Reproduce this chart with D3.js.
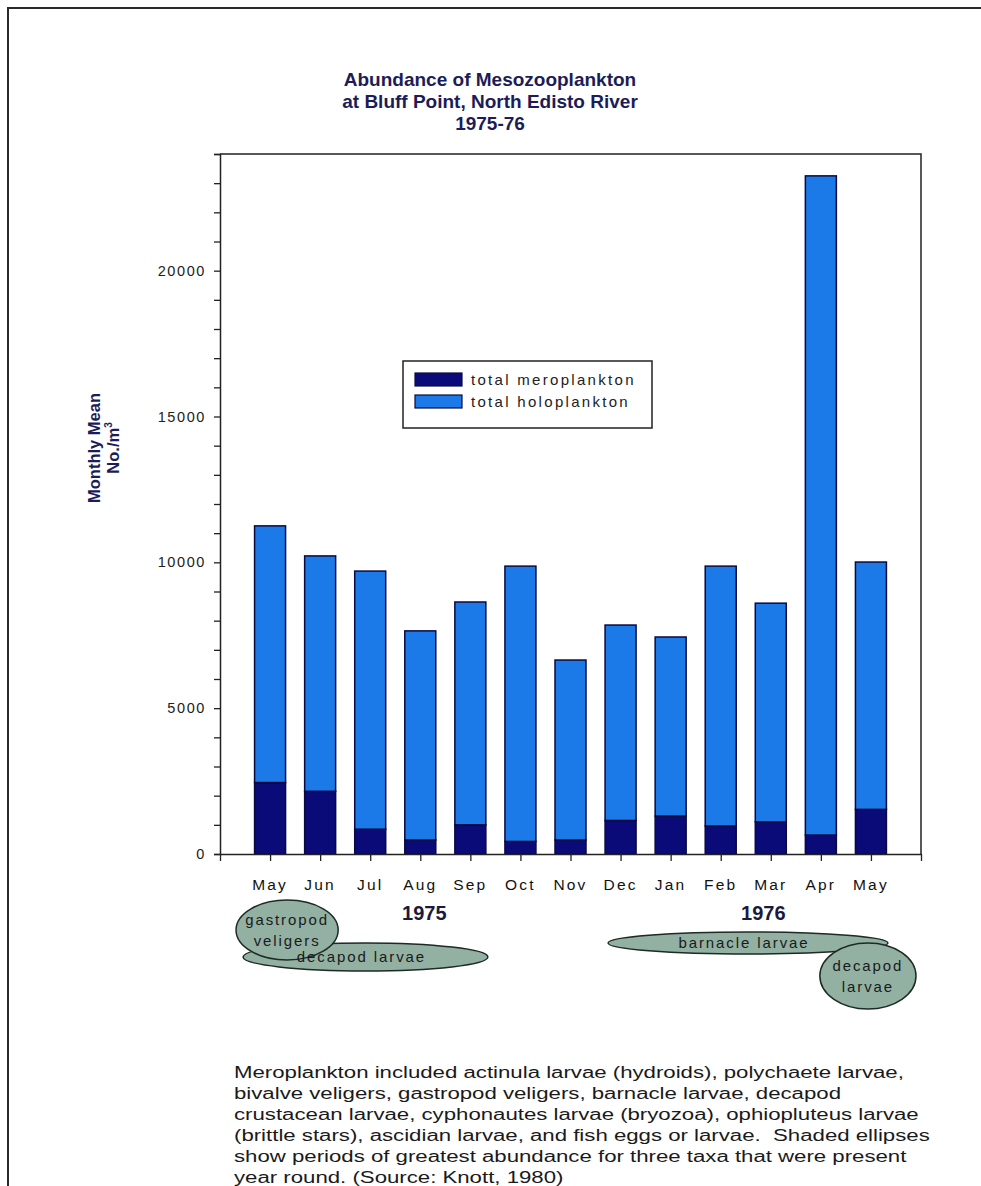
<!DOCTYPE html>
<html>
<head>
<meta charset="utf-8">
<script src="https://cdn.jsdelivr.net/npm/d3@7"></script>
<style>
  body { margin: 0; background: #fff; }
  svg { display: block; font-family: "Liberation Sans", Arial, sans-serif; }
</style>
</head>
<body>
<div id="chart"></div>
<script>
// --- data ---
const months = ["May", "Jun", "Jul", "Aug", "Sep", "Oct", "Nov", "Dec", "Jan", "Feb", "Mar", "Apr", "May"];
const meroplankton = [2450, 2150, 850, 480, 1000, 430, 480, 1150, 1300, 960, 1100, 650, 1530];
const holoplankton = [8800, 8070, 8850, 7170, 7640, 9440, 6170, 6700, 6140, 8910, 7500, 22600, 8480];
const seriesNames = ["total meroplankton", "total holoplankton"];
const yTicks = [0, 5000, 10000, 15000, 20000];
const years = [{ label: "1975", at: 4.08 }, { label: "1976", at: 10.85 }];
// periods of greatest abundance, in month positions (1 = first May)
const taxa = [
  { lines: ["decapod larvae"], from: 0.46, to: 5.35 },
  { lines: ["gastropod", "veligers"], from: 0.32, to: 2.36 },
  { lines: ["barnacle larvae"], from: 7.75, to: 13.34 },
  { lines: ["decapod", "larvae"], from: 11.98, to: 13.9 }
];
const titleLines = ["Abundance of Mesozooplankton", "at Bluff Point, North Edisto River", "1975-76"];
const noteLines = [
  "Meroplankton included actinula larvae (hydroids), polychaete larvae,",
  "bivalve veligers, gastropod veligers, barnacle larvae, decapod",
  "crustacean larvae, cyphonautes larvae (bryozoa), ophiopluteus larvae",
  "(brittle stars), ascidian larvae, and fish eggs or larvae.\u00a0 Shaded ellipses",
  "show periods of greatest abundance for three taxa that were present",
  "year round. (Source: Knott, 1980)"
];

const width = 981, height = 1186;
const plotL = 220, plotR = 921, plotT = 154, plotB = 854;
const colors = ["#0a0a78", "#1c79e8"];
const navy = "#1c1c58";

const svg = d3.select("#chart").append("svg")
  .attr("width", width)
  .attr("height", height);

// outer frame (only top and left edges fall inside the picture)
svg.append("rect")
  .attr("x", 8).attr("y", 8)
  .attr("width", 1100).attr("height", 1300)
  .attr("fill", "none").attr("stroke", "#2a2a2a").attr("stroke-width", 2);

const x = d3.scaleLinear().domain([0, 14]).range([plotL, plotR]);
const y = d3.scaleLinear().domain([0, 24000]).range([plotB, plotT]);

// title
svg.append("g").selectAll("text")
  .data(titleLines)
  .enter().append("text")
  .attr("x", 490)
  .attr("y", (d, i) => 86 + i * 22)
  .attr("text-anchor", "middle")
  .attr("font-size", 19)
  .attr("font-weight", "bold")
  .attr("fill", navy)
  .text(d => d);

// stacked bars
const rows = months.map((m, i) => ({ i: i, mero: meroplankton[i], holo: holoplankton[i] }));
const stack = d3.stack().keys(["mero", "holo"])(rows);
const barW = 31;

svg.append("g").selectAll("g")
  .data(stack)
  .enter().append("g")
  .attr("fill", (d, k) => colors[k])
  .selectAll("rect")
  .data(d => d)
  .enter().append("rect")
  .attr("x", d => x(d.data.i + 1) - barW / 2)
  .attr("y", d => y(d[1]))
  .attr("width", barW)
  .attr("height", d => y(d[0]) - y(d[1]))
  .attr("stroke", "#0a0a40")
  .attr("stroke-width", 1.5);

// plot box: top and right edges
svg.append("path")
  .attr("d", `M${plotL},${plotT}H${plotR}V${plotB}`)
  .attr("fill", "none").attr("stroke", "#222").attr("stroke-width", 1.5);

// y axis
const yAxis = svg.append("g")
  .attr("transform", `translate(${plotL},0)`)
  .call(d3.axisLeft(y).tickValues(d3.range(0, 24001, 1000)).tickSize(6).tickFormat(""));
yAxis.selectAll(".tick line").attr("stroke", "#222").attr("stroke-width", 1.3);
yAxis.select(".domain").attr("stroke", "#222").attr("stroke-width", 1.5);

svg.append("g").selectAll("text")
  .data(yTicks)
  .enter().append("text")
  .attr("x", 206)
  .attr("y", d => y(d) + 5)
  .attr("text-anchor", "end")
  .attr("font-size", 14.5)
  .attr("letter-spacing", 1.6)
  .attr("fill", "#222")
  .text(d => d);

// x axis
const xAxis = svg.append("g")
  .attr("transform", `translate(0,${plotB})`)
  .call(d3.axisBottom(x).tickValues(d3.range(0, 15)).tickSize(7).tickSizeOuter(0).tickFormat(""));
xAxis.selectAll(".tick line").attr("stroke", "#222").attr("stroke-width", 1.3);
xAxis.select(".domain").attr("stroke", "#222").attr("stroke-width", 1.5);

svg.append("g").selectAll("text")
  .data(months)
  .enter().append("text")
  .attr("x", (d, i) => x(i + 1))
  .attr("y", 890)
  .attr("text-anchor", "middle")
  .attr("font-size", 15.5)
  .attr("letter-spacing", 2.2)
  .attr("fill", "#111")
  .text(d => d);

svg.append("g").selectAll("text")
  .data(years)
  .enter().append("text")
  .attr("x", d => x(d.at))
  .attr("y", 920)
  .attr("text-anchor", "middle")
  .attr("font-size", 20)
  .attr("font-weight", "bold")
  .attr("fill", "#1a1a3c")
  .text(d => d.label);

// y axis title
const yTitle = svg.append("text")
  .attr("transform", "translate(100,448) rotate(-90)")
  .attr("text-anchor", "middle")
  .attr("font-size", 16.5)
  .attr("font-weight", "bold")
  .attr("fill", navy);
yTitle.append("tspan").attr("x", 0).attr("dy", 0).text("Monthly Mean");
yTitle.append("tspan").attr("x", 0).attr("dy", 19).text("No./m");
yTitle.append("tspan").attr("font-size", 10).attr("dy", -7).text("3");

// legend
const legend = svg.append("g").attr("transform", "translate(403,361)");
legend.append("rect")
  .attr("width", 249).attr("height", 67)
  .attr("fill", "#fff").attr("stroke", "#222").attr("stroke-width", 1.5);
const item = legend.selectAll("g")
  .data(seriesNames)
  .enter().append("g")
  .attr("transform", (d, i) => `translate(12,${12 + i * 22})`);
item.append("rect")
  .attr("width", 47).attr("height", 13)
  .attr("fill", (d, i) => colors[i])
  .attr("stroke", "#0a0a40").attr("stroke-width", 1.2);
item.append("text")
  .attr("x", 56).attr("y", 12)
  .attr("font-size", 15)
  .attr("letter-spacing", 2.3)
  .attr("fill", "#222")
  .text(d => d);

// shaded ellipses for taxa
const ellipseRows = [
  { cy: 957, ry: 14 },
  { cy: 930, ry: 30 },
  { cy: 943, ry: 11 },
  { cy: 976, ry: 33 }
];
const cxOf = d => (x(d.from) + x(d.to)) / 2;
svg.append("g").selectAll("ellipse")
  .data(taxa)
  .enter().append("ellipse")
  .attr("cx", cxOf)
  .attr("cy", (d, i) => ellipseRows[i].cy)
  .attr("rx", d => (x(d.to) - x(d.from)) / 2)
  .attr("ry", (d, i) => ellipseRows[i].ry)
  .attr("fill", "#92b1a3")
  .attr("stroke", "#1e2a24")
  .attr("stroke-width", 1.5);

const taxaText = svg.append("g")
  .attr("font-family", "'Liberation Sans Narrow', 'Liberation Sans', sans-serif")
  .attr("font-size", 15)
  .attr("letter-spacing", 1.9)
  .attr("fill", "#1a1a1a")
  .attr("text-anchor", "middle");
taxa.forEach((d, i) => {
  const cx = cxOf(d) - (d.lines.length === 1 ? 4 : 0);
  const cy = ellipseRows[i].cy;
  taxaText.selectAll(null)
    .data(d.lines)
    .enter().append("text")
    .attr("x", cx)
    .attr("y", (t, j) => cy + 5 - (d.lines.length - 1) * 10.5 + j * 21)
    .text(t => t);
});

// footnote
const note = svg.append("g").attr("transform", "translate(234,0)");
const noteText = note.selectAll("text")
  .data(noteLines)
  .enter().append("text")
  .attr("x", 0)
  .attr("y", (d, i) => 1078 + i * 21)
  .attr("font-size", 16)
  .attr("fill", "#1a1a1a")
  .text(d => d);
const natural = noteText.nodes()[3].getComputedTextLength();
note.attr("transform", `translate(234,0) scale(${696 / natural},1)`);
</script>
</body>
</html>
